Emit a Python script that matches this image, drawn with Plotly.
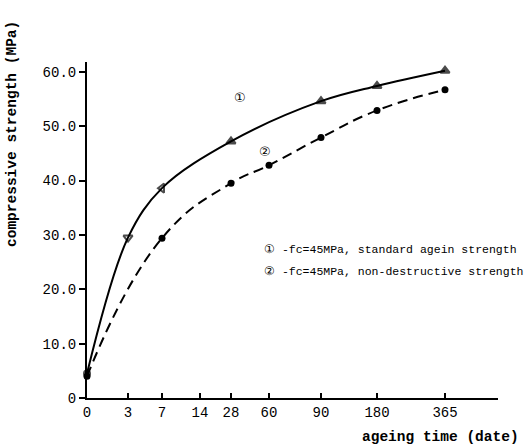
import numpy as np
import plotly.graph_objects as go

# ---- data ----
tick_days = [0, 3, 7, 14, 28, 60, 90, 180, 365]
tick_labels = ["0", "3", "7", "14", "28", "60", "90", "180", "365"]
# non-uniform position of each day label along the drawn time axis
tick_pos = [0, 41, 75, 113, 144, 182, 234, 290, 358]

std_days = [0, 3, 7, 28, 90, 180, 365]
std_strength = [4.5, 29.5, 38.6, 47.2, 54.6, 57.4, 60.2]

ndt_days = [0, 7, 28, 60, 90, 180, 365]
ndt_strength = [4.0, 29.4, 39.5, 42.8, 47.9, 52.9, 56.7]

y_ticks = [0, 10, 20, 30, 40, 50, 60]
y_tick_labels = ["0", "10.0", "20.0", "30.0", "40.0", "50.0", "60.0"]

legend_1 = "① -fc=45MPa, standard agein strength"
legend_2 = "② -fc=45MPa, non-destructive strength"

# ---- scale: days -> axis position ----
def to_pos(days):
    return np.interp(days, tick_days, tick_pos)

MONO = "Liberation Mono, Courier New, monospace"
INK = "#000000"

fig = go.Figure()

fig.add_trace(go.Scatter(
    x=to_pos(std_days), y=std_strength, mode="lines+markers",
    line=dict(color=INK, width=2, shape="spline", smoothing=1.0),
    marker=dict(color=INK, size=[6, 8, 8, 8, 8, 8, 8],
                symbol=["circle", "triangle-down-open", "triangle-left-open",
                        "triangle-up", "triangle-up", "triangle-up", "triangle-up"],
                line=dict(color=INK, width=2)),
    showlegend=False, cliponaxis=False,
))

fig.add_trace(go.Scatter(
    x=to_pos(ndt_days), y=ndt_strength, mode="lines+markers",
    line=dict(color=INK, width=2, dash="10px,6px", shape="spline", smoothing=1.3),
    marker=dict(color=INK, size=7, symbol="circle"),
    showlegend=False, cliponaxis=False,
))

L, R, T, B = 87, 27, 62, 48
W, H = 525, 446
pw, ph = W - L - R, H - T - B

def px(x):
    return (x - L) / pw

def py(y):
    return (H - B - y) / ph

annotations = []
for text, yy in [(legend_1, 249), (legend_2, 271)]:
    annotations.append(dict(text=text, x=px(262), y=py(yy), xref="paper", yref="paper",
                            xanchor="left", yanchor="middle", showarrow=False,
                            font=dict(family=MONO, size=11.5, color=INK)))
annotations += [
    dict(text="①", x=px(240), y=py(98), xref="paper", yref="paper", showarrow=False,
         xanchor="center", yanchor="middle",
         font=dict(family="DejaVu Sans", size=13, color=INK)),
    dict(text="②", x=px(265), y=py(151), xref="paper", yref="paper", showarrow=False,
         xanchor="center", yanchor="middle",
         font=dict(family="DejaVu Sans", size=13, color=INK)),
    dict(text="<b>compressive strength (MPa)</b>", x=px(12), y=py(134), xref="paper",
         yref="paper", showarrow=False, textangle=-90, xanchor="center", yanchor="middle",
         font=dict(family=MONO, size=14.5, color=INK)),
    dict(text="<b>ageing time (date)</b>", x=px(521), y=py(437), xref="paper",
         yref="paper", xanchor="right", yanchor="middle", showarrow=False,
         font=dict(family=MONO, size=14.5, color=INK)),
]

fig.update_layout(
    width=W, height=H,
    margin=dict(l=L, r=R, t=T, b=B, pad=0),
    paper_bgcolor="white", plot_bgcolor="white",
    annotations=annotations,
    font=dict(family=MONO, color=INK),
)

fig.update_xaxes(
    range=[0, 411], tickmode="array", tickvals=tick_pos, ticktext=tick_labels,
    showgrid=False, zeroline=False, showline=True, linecolor=INK, linewidth=2,
    ticks="inside", ticklen=5, tickwidth=1.5, tickcolor=INK,
    tickfont=dict(family=MONO, size=14, color=INK),
)
fig.update_yaxes(
    range=[0, 61.8], tickmode="array", tickvals=y_ticks, ticktext=y_tick_labels,
    showgrid=False, zeroline=False, showline=True, linecolor=INK, linewidth=2,
    ticks="outside", ticklen=6, tickwidth=1.5, tickcolor=INK,
    tickfont=dict(family=MONO, size=14, color=INK),
)

fig.write_html("out.html")
